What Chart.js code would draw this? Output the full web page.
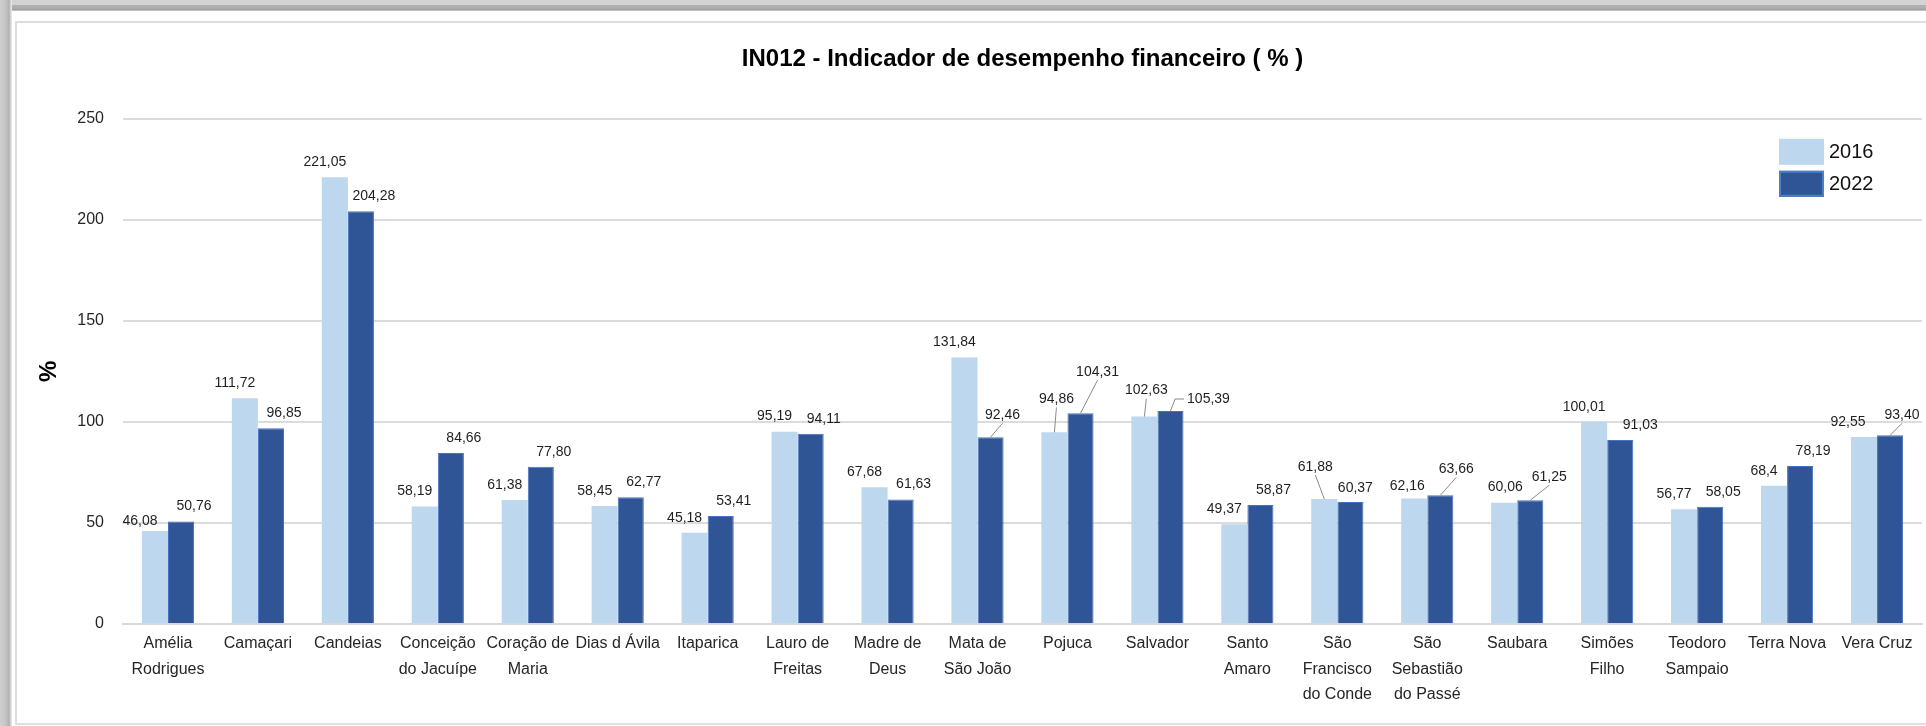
<!DOCTYPE html>
<html lang="pt-BR">
<head>
<meta charset="utf-8">
<title>IN012 - Indicador de desempenho financeiro</title>
<script src="https://cdn.jsdelivr.net/npm/chart.js@4.4.1/dist/chart.umd.min.js"></script>
<style>
  html, body { margin: 0; padding: 0; background: #fff; }
  body { width: 1926px; height: 726px; position: relative; overflow: hidden; }
  #faixaTopo { position: absolute; left: 0; top: 0; width: 1926px; height: 11px;
    background: linear-gradient(#d3d3d3 0, #d3d3d3 5px, #b2b2b2 5px, #aaaaaa 9px, #969696 10px, #e8e8e8 11px); }
  #faixaEsq { position: absolute; left: 0; top: 0; width: 12px; height: 726px;
    background: linear-gradient(to right, #cfcfcf 0, #c4c4c4 6px, #b0b0b0 9px, #dadada 11px, #f2f2f2 12px); }
  #moldura { position: absolute; left: 15px; top: 21px; width: 1920px; height: 700px; border: 2px solid #dedede; }
  canvas { position: absolute; left: 0; top: 0; }
</style>
</head>
<body>
<div id="faixaTopo"></div>
<div id="faixaEsq"></div>
<div id="moldura"></div>
<canvas id="grafico" width="1926" height="726"></canvas>
<script>
"use strict";

// dados
const municipios = [
    ["Amélia", "Rodrigues"], "Camaçari", "Candeias", ["Conceição", "do Jacuípe"],
    ["Coração de", "Maria"], "Dias d Ávila", "Itaparica", ["Lauro de", "Freitas"],
    ["Madre de", "Deus"], ["Mata de", "São João"], "Pojuca", "Salvador",
    ["Santo", "Amaro"], ["São", "Francisco", "do Conde"], ["São", "Sebastião", "do Passé"],
    "Saubara", ["Simões", "Filho"], ["Teodoro", "Sampaio"], "Terra Nova", "Vera Cruz"
];
const valores2016 = [46.08, 111.72, 221.05, 58.19, 61.38, 58.45, 45.18, 95.19, 67.68, 131.84,
    94.86, 102.63, 49.37, 61.88, 62.16, 60.06, 100.01, 56.77, 68.4, 92.55];
const valores2022 = [50.76, 96.85, 204.28, 84.66, 77.80, 62.77, 53.41, 94.11, 61.63, 92.46,
    104.31, 105.39, 58.87, 60.37, 63.66, 61.25, 91.03, 58.05, 78.19, 93.40];
const rotulos2016 = ["46,08", "111,72", "221,05", "58,19", "61,38", "58,45", "45,18", "95,19", "67,68", "131,84",
    "94,86", "102,63", "49,37", "61,88", "62,16", "60,06", "100,01", "56,77", "68,4", "92,55"];
const rotulos2022 = ["50,76", "96,85", "204,28", "84,66", "77,80", "62,77", "53,41", "94,11", "61,63", "92,46",
    "104,31", "105,39", "58,87", "60,37", "63,66", "61,25", "91,03", "58,05", "78,19", "93,40"];
const anos = ["2016", "2022"];
const eixoY = { min: 0, max: 250, passo: 50 };

const fonte = "'Liberation Sans', Arial, sans-serif";

// deslocamento dos rótulos em relação ao topo da barra [dx, dy, linha guia]
const desvioPadrao = [[-10, -15], [13, -15]];
const desvios = {
    "0-0": [-15, -10],
    "9-1": [12, -22, true],
    "10-0": [2, -33, true],
    "10-1": [17, -41, true],
    "11-0": [2, -26, true],
    "11-1": [38, -12, true],
    "13-0": [-9, -32, true],
    "13-1": [5, -14],
    "14-0": [-7, -12],
    "14-1": [16, -26, true],
    "15-0": [1, -15],
    "15-1": [19, -23, true],
    "16-1": [20, -15],
    "19-0": [-16, -15],
    "19-1": [12, -20, true]
};

const rotulosValores = {
    id: "rotulosValores",
    afterDatasetsDraw(chart) {
        const ctx = chart.ctx;
        ctx.save();
        ctx.font = "14px " + fonte;
        ctx.textAlign = "center";
        ctx.textBaseline = "middle";
        chart.data.datasets.forEach((ds, d) => {
            const meta = chart.getDatasetMeta(d);
            meta.data.forEach((barra, i) => {
                const texto = ds.rotulos[i];
                const desvio = desvios[i + "-" + d] || desvioPadrao[d];
                const x = barra.x + desvio[0];
                const y = barra.y + desvio[1];
                if (desvio[2]) {
                    const w = ctx.measureText(texto).width;
                    ctx.strokeStyle = "#8a8a8a";
                    ctx.lineWidth = 1;
                    ctx.beginPath();
                    if (Math.abs(desvio[0]) > 25) {
                        ctx.moveTo(x - w / 2 - 3, y);
                        ctx.lineTo(x - w / 2 - 12, y);
                    } else {
                        ctx.moveTo(x, y + 8);
                    }
                    ctx.lineTo(barra.x, barra.y);
                    ctx.stroke();
                }
                ctx.fillStyle = "#1f1f1f";
                ctx.fillText(texto, x, y);
            });
        });
        ctx.restore();
    }
};

const legenda = {
    id: "legenda",
    afterDraw(chart) {
        const { ctx, chartArea } = chart;
        const x = chartArea.right - 143;
        let y = chartArea.top + 20;
        ctx.save();
        ctx.font = "20px " + fonte;
        ctx.textBaseline = "middle";
        chart.data.datasets.forEach((ds, d) => {
            ctx.fillStyle = ds.backgroundColor;
            ctx.fillRect(x, y, 45, 26);
            if (d === 1) {
                ctx.strokeStyle = "#4a7fc9";
                ctx.lineWidth = 2;
                ctx.strokeRect(x + 1, y + 1, 43, 24);
            }
            ctx.fillStyle = "#111";
            ctx.fillText(ds.label, x + 50, y + 14);
            y += 32;
        });
        ctx.restore();
    }
};

new Chart(document.getElementById("grafico"), {
    type: "bar",
    data: {
        labels: municipios,
        datasets: [
            {
                label: anos[0],
                data: valores2016,
                rotulos: rotulos2016,
                backgroundColor: "#bdd7ee",
                borderWidth: 0
            },
            {
                label: anos[1],
                data: valores2022,
                rotulos: rotulos2022,
                backgroundColor: "#2f5597",
                borderColor: "#4472c4",
                borderWidth: 1
            }
        ]
    },
    options: {
        responsive: false,
        animation: false,
        layout: { padding: { left: 0, right: 4, top: 0, bottom: 0 } },
        datasets: { bar: { categoryPercentage: 0.58, barPercentage: 1 } },
        plugins: {
            legend: { display: false },
            tooltip: { enabled: false },
            title: {
                display: true,
                text: "IN012 - Indicador de desempenho financeiro ( % )",
                fullSize: false,
                color: "#000",
                font: { family: fonte, size: 24, weight: "bold" },
                padding: { top: 45, bottom: 45 }
            }
        },
        scales: {
            x: {
                grid: { display: false, drawTicks: false },
                border: { color: "#d9d9d9", width: 2 },
                ticks: {
                    color: "#262626",
                    font: { family: fonte, size: 16, lineHeight: 1.6 },
                    padding: 7,
                    maxRotation: 0,
                    autoSkip: false
                },
                afterFit: (s) => { s.height = 102; }
            },
            y: {
                min: eixoY.min,
                max: eixoY.max,
                ticks: {
                    stepSize: eixoY.passo,
                    color: "#262626",
                    font: { family: fonte, size: 16 },
                    padding: 19
                },
                grid: { color: "#dcdcdc", lineWidth: 2, drawTicks: false },
                border: { display: false },
                title: {
                    display: true,
                    text: "%",
                    color: "#000",
                    font: { family: fonte, size: 24, weight: "bold" },
                    padding: { top: 35, bottom: 0 }
                },
                afterFit: (s) => { s.width = 123; }
            }
        }
    },
    plugins: [rotulosValores, legenda]
});
</script>
</body>
</html>
